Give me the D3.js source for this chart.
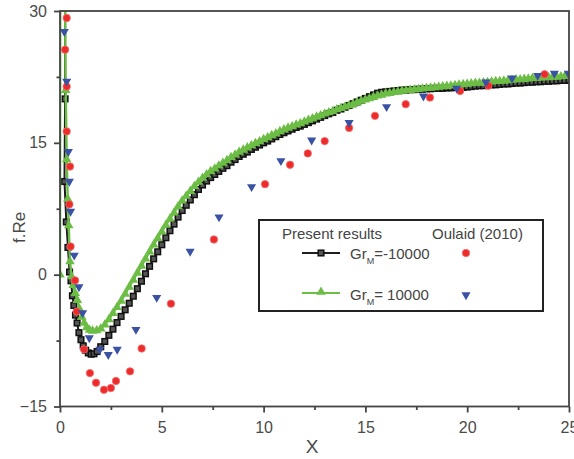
<!DOCTYPE html>
<meta charset="utf-8">
<style>
    body { margin: 0; background: #fff; }
    svg { font-family: "Liberation Sans", Arial, sans-serif; }
    .axis text { font-size: 16px; fill: #4a4a4a; }
    .axis path, .axis line { stroke: #444; stroke-width: 1.8px; }
    .legend text { font-size: 15px; fill: #444; }
</style>
<body>
<script src="https://d3js.org/d3.v7.min.js"></script>
<script>

    // ---- data ----
    var xTicks = [0, 5, 10, 15, 20, 25];
    var xMinor = [2.5, 7.5, 12.5, 17.5, 22.5];
    var yTicks = [-15, 0, 15, 30];
    var yMinor = [-7.5, 7.5, 22.5];

    // points close to the wall (x < 2), [x, f.Re]
    var negHead = [[0.25, 45], [0.25, 20], [0.22, 10.6], [0.31, 6.0], [0.39, 3.1], [0.47, 0.3],
        [0.54, -0.7], [0.61, -2.4], [0.68, -3.5], [0.76, -4.6], [0.84, -5.5], [0.93, -6.6],
        [1.03, -7.4], [1.14, -8.1], [1.26, -8.6], [1.39, -8.9], [1.53, -9.05], [1.67, -9.0],
        [1.82, -8.75]];
    var posHead = [[0, 0], [0.03, 80], [0.24, 35], [0.28, 21], [0.33, 13.1], [0.38, 8.6],
        [0.43, 5.6], [0.49, 1.5], [0.57, -0.2], [0.65, -1.2], [0.75, -2.1], [0.85, -2.9],
        [0.96, -3.9], [1.07, -4.8], [1.19, -5.5], [1.31, -6.0], [1.45, -6.3], [1.6, -6.4],
        [1.8, -6.35]];

    // x positions for the rest of the computed curves
    var gridX = [2, 2.2, 2.4, 2.6, 2.8, 3, 3.2, 3.4, 3.6, 3.8,
        4, 4.2, 4.4, 4.6, 4.8, 5, 5.2, 5.4, 5.6, 5.8,
        6, 6.2, 6.4, 6.6, 6.8, 7, 7.2, 7.4, 7.6, 7.8,
        8, 8.2, 8.4, 8.6, 8.8, 9, 9.2, 9.4, 9.6, 9.8,
        10, 10.2, 10.4, 10.6, 10.8, 11, 11.2, 11.4, 11.6, 11.8,
        12, 12.2, 12.4, 12.6, 12.8, 13, 13.2, 13.4, 13.6, 13.8,
        14, 14.2, 14.4, 14.6, 14.8, 15, 15.2, 15.4, 15.6, 15.8,
        16, 16.2, 16.4, 16.6, 16.8, 17, 17.2, 17.4, 17.6, 17.8,
        18, 18.2, 18.4, 18.6, 18.8, 19, 19.2, 19.4, 19.6, 19.8,
        20, 20.2, 20.4, 20.6, 20.8, 21, 21.2, 21.4, 21.6, 21.8,
        22, 22.2, 22.4, 22.6, 22.8, 23, 23.2, 23.4, 23.6, 23.8,
        24, 24.2, 24.4, 24.6, 24.8, 25];

    // Gr_M = -10000, present results
    var negY = [-8.2, -7.6, -6.9, -6.2, -5.45, -4.75, -4.0, -3.25, -2.45, -1.6,
        -0.75, 0.1, 0.95, 1.8, 2.6, 3.4, 4.2, 5.0, 5.75, 6.55,
        7.3, 7.9, 8.5, 9.1, 9.7, 10.2, 10.65, 11.05, 11.4, 11.75,
        12.1, 12.4, 12.8, 13.1, 13.45, 13.7, 13.95, 14.25, 14.5, 14.75,
        15.0, 15.2, 15.45, 15.7, 15.95, 16.15, 16.35, 16.55, 16.75, 16.9,
        17.1, 17.3, 17.5, 17.7, 17.9, 18.1, 18.3, 18.45, 18.7, 18.85,
        19.05, 19.25, 19.45, 19.65, 19.85, 20.05, 20.25, 20.45, 20.65, 20.75,
        20.8, 20.85, 20.9, 20.95, 21.0, 21.0, 21.05, 21.05, 21.1, 21.1,
        21.15, 21.15, 21.2, 21.2, 21.2, 21.25, 21.25, 21.3, 21.3, 21.3,
        21.35, 21.4, 21.45, 21.5, 21.5, 21.55, 21.6, 21.6, 21.65, 21.7,
        21.7, 21.75, 21.8, 21.8, 21.85, 21.9, 21.9, 21.95, 21.95, 22.0,
        22.0, 22.05, 22.05, 22.1, 22.1, 22.15];

    // Gr_M = 10000, present results
    var posY = [-6.15, -5.7, -5.1, -4.4, -3.7, -3.0, -2.2, -1.4, -0.6, 0.2,
        1.0, 1.8, 2.6, 3.4, 4.15, 4.9, 5.65, 6.35, 7.05, 7.75,
        8.4, 8.95, 9.5, 10.05, 10.55, 11.0, 11.4, 11.75, 12.05, 12.4,
        12.7, 13.0, 13.35, 13.65, 13.95, 14.2, 14.45, 14.7, 14.95, 15.15,
        15.4, 15.6, 15.85, 16.05, 16.3, 16.5, 16.7, 16.85, 17.05, 17.2,
        17.4, 17.6, 17.75, 17.95, 18.1, 18.3, 18.45, 18.6, 18.8, 18.95,
        19.1, 19.25, 19.4, 19.6, 19.75, 19.9, 20.05, 20.2, 20.35, 20.45,
        20.6, 20.65, 20.75, 20.8, 20.9, 20.95, 21.0, 21.05, 21.1, 21.15,
        21.2, 21.25, 21.3, 21.35, 21.4, 21.45, 21.5, 21.55, 21.6, 21.65,
        21.7, 21.75, 21.8, 21.8, 21.85, 21.9, 21.95, 22.0, 22.0, 22.05,
        22.1, 22.15, 22.2, 22.2, 22.25, 22.3, 22.35, 22.35, 22.4, 22.45,
        22.45, 22.5, 22.5, 22.55, 22.6, 22.6];

    // Oulaid (2010)
    var oulaidNeg = [[0.33, 29.2], [0.25, 25.6], [0.33, 21.4], [0.33, 16.3], [0.49, 12.3],
        [0.46, 8.0], [0.52, 3.2], [0.74, -0.65], [0.82, -4.2], [1.18, -8.5], [1.47, -11.2],
        [1.77, -12.3], [2.16, -13.1], [2.5, -12.9], [2.75, -12.1], [3.44, -11.0], [4.01, -8.4],
        [5.45, -3.3], [7.56, 4.0], [10.07, 10.3], [11.3, 12.5], [12.17, 13.8], [13.0, 15.2],
        [14.2, 16.7], [15.47, 18.07], [16.98, 19.4], [18.17, 20.15], [19.65, 20.9],
        [21.04, 21.5], [23.8, 22.8]];
    var oulaidPos = [[0.21, 27.65], [0.33, 22.0], [0.41, 14.0], [0.46, 10.6], [0.52, 7.2],
        [0.7, 2.2], [0.93, -1.4], [1.11, -4.35], [1.44, -7.2], [1.96, -8.5], [2.37, -9.1],
        [2.81, -8.5], [3.73, -6.25], [4.75, -2.6], [6.39, 2.65], [7.81, 6.55], [9.41, 10.0],
        [10.85, 12.95], [12.36, 15.3], [14.2, 17.3], [16.04, 19.1], [17.85, 20.3],
        [19.48, 21.2], [20.92, 21.9], [22.2, 22.35], [23.46, 22.65], [24.28, 22.9], [24.97, 22.9]];

    var negCurve = negHead.concat(gridX.map(function(x, i) { return [x, negY[i]]; }));
    var posCurve = posHead.concat(gridX.map(function(x, i) { return [x, posY[i]]; }));

    // ---- layout ----
    var width = 574,
        height = 459,
        plotL = 60, plotR = 569, plotT = 11, plotB = 406.5;

    var x = d3.scaleLinear().domain([0, 25]).range([plotL, plotR]);
    var y = d3.scaleLinear().domain([-15, 30]).range([plotB, plotT]);

    var svg = d3.select("body").append("svg")
        .attr("width", width)
        .attr("height", height);

    svg.append("clipPath").attr("id", "plot")
        .append("rect")
        .attr("x", plotL).attr("y", plotT)
        .attr("width", plotR - plotL).attr("height", plotB - plotT);

    var black = "#1e1e1e", green = "#6cbd45", red = "#ee2b2b", blue = "#3a52a3";

    var line = d3.line()
        .x(function(d) { return x(d[0]); })
        .y(function(d) { return y(d[1]); });

    var plot = svg.append("g").attr("clip-path", "url(#plot)");

    // Gr_M = -10000 (black squares)
    plot.append("path")
        .datum(negCurve)
        .attr("d", line)
        .attr("fill", "none")
        .attr("stroke", black)
        .attr("stroke-width", 2);

    plot.selectAll(".sq")
        .data(negCurve)
        .enter().append("rect")
        .attr("class", "sq")
        .attr("x", function(d) { return x(d[0]) - 2.8; })
        .attr("y", function(d) { return y(d[1]) - 2.8; })
        .attr("width", 5.6)
        .attr("height", 5.6)
        .attr("fill", "#555")
        .attr("stroke", "#111")
        .attr("stroke-width", 1.5);

    // Gr_M = 10000 (green triangles)
    plot.append("path")
        .datum(posCurve)
        .attr("d", line)
        .attr("fill", "none")
        .attr("stroke", green)
        .attr("stroke-width", 2.4);

    var triUp = d3.symbol().type(d3.symbolTriangle).size(40);

    plot.selectAll(".tri")
        .data(posCurve)
        .enter().append("path")
        .attr("class", "tri")
        .attr("d", triUp)
        .attr("transform", function(d) { return "translate(" + x(d[0]) + "," + y(d[1]) + ")"; })
        .attr("fill", green);

    // Oulaid (2010)
    plot.selectAll(".dot")
        .data(oulaidNeg)
        .enter().append("circle")
        .attr("class", "dot")
        .attr("cx", function(d) { return x(d[0]); })
        .attr("cy", function(d) { return y(d[1]); })
        .attr("r", 3.7)
        .attr("fill", red)
        .attr("stroke", "#f26a6a")
        .attr("stroke-width", 0.8);

    var triDown = d3.symbol().type(d3.symbolTriangle).size(36);

    plot.selectAll(".inv")
        .data(oulaidPos)
        .enter().append("path")
        .attr("class", "inv")
        .attr("d", triDown)
        .attr("transform", function(d) { return "translate(" + x(d[0]) + "," + y(d[1]) + ") rotate(180)"; })
        .attr("fill", blue);

    // ---- axes ----
    svg.append("g").attr("class", "axis")
        .attr("transform", "translate(0," + plotB + ")")
        .call(d3.axisBottom(x).tickValues(xTicks).tickSize(6).tickPadding(9));
    svg.append("g").attr("class", "axis")
        .attr("transform", "translate(0," + plotB + ")")
        .call(d3.axisBottom(x).tickValues(xMinor).tickSize(3.5).tickFormat(""));

    svg.append("g").attr("class", "axis")
        .attr("transform", "translate(" + plotL + ",0)")
        .call(d3.axisLeft(y).tickValues(yTicks).tickSize(6).tickPadding(7));
    svg.append("g").attr("class", "axis")
        .attr("transform", "translate(" + plotL + ",0)")
        .call(d3.axisLeft(y).tickValues(yMinor).tickSize(3.5).tickFormat(""));

    svg.selectAll(".axis .domain").remove();

    svg.append("rect")
        .attr("x", plotL).attr("y", plotT)
        .attr("width", plotR - plotL).attr("height", plotB - plotT)
        .attr("fill", "none")
        .attr("stroke", "#444")
        .attr("stroke-width", 1.8);

    svg.append("text")
        .attr("x", 312).attr("y", 453)
        .attr("text-anchor", "middle")
        .style("font-size", "19px").style("fill", "#4a4a4a")
        .text("X");

    svg.append("text")
        .attr("transform", "translate(25,243) rotate(-90)")
        .attr("text-anchor", "start")
        .style("font-size", "17px").style("fill", "#4a4a4a")
        .text("f.Re");

    // ---- legend ----
    var lg = svg.append("g").attr("class", "legend");

    lg.append("rect")
        .attr("x", 259).attr("y", 220)
        .attr("width", 284).attr("height", 91)
        .attr("fill", "#fff")
        .attr("stroke", "#222")
        .attr("stroke-width", 2);

    lg.append("text").attr("x", 282).attr("y", 238.5).text("Present results");
    lg.append("text").attr("x", 432).attr("y", 238.5).text("Oulaid (2010)");

    var rows = [
        {label: "=-10000", cy: 253, ty: 259, stroke: black},
        {label: "= 10000", cy: 293, ty: 299.5, stroke: green}
    ];

    rows.forEach(function(r) {
        lg.append("line")
            .attr("x1", 302).attr("x2", 340)
            .attr("y1", r.cy).attr("y2", r.cy)
            .attr("stroke", r.stroke).attr("stroke-width", 2);
        var t = lg.append("text").attr("x", 350).attr("y", r.ty);
        t.append("tspan").text("Gr");
        t.append("tspan").attr("dy", 5).style("font-size", "9px").text("M");
        t.append("tspan").attr("dy", -5).text(r.label);
    });

    lg.append("rect")
        .attr("x", 321 - 2.8).attr("y", 253 - 2.8)
        .attr("width", 5.6).attr("height", 5.6)
        .attr("fill", "#555").attr("stroke", "#111").attr("stroke-width", 1.5);
    lg.append("path")
        .attr("d", triUp)
        .attr("transform", "translate(321,292)")
        .attr("fill", green);
    lg.append("circle")
        .attr("cx", 466).attr("cy", 253).attr("r", 3.7)
        .attr("fill", red).attr("stroke", "#f26a6a").attr("stroke-width", 0.8);
    lg.append("path")
        .attr("d", triDown)
        .attr("transform", "translate(466,295) rotate(180)")
        .attr("fill", blue);

</script>
</body>
